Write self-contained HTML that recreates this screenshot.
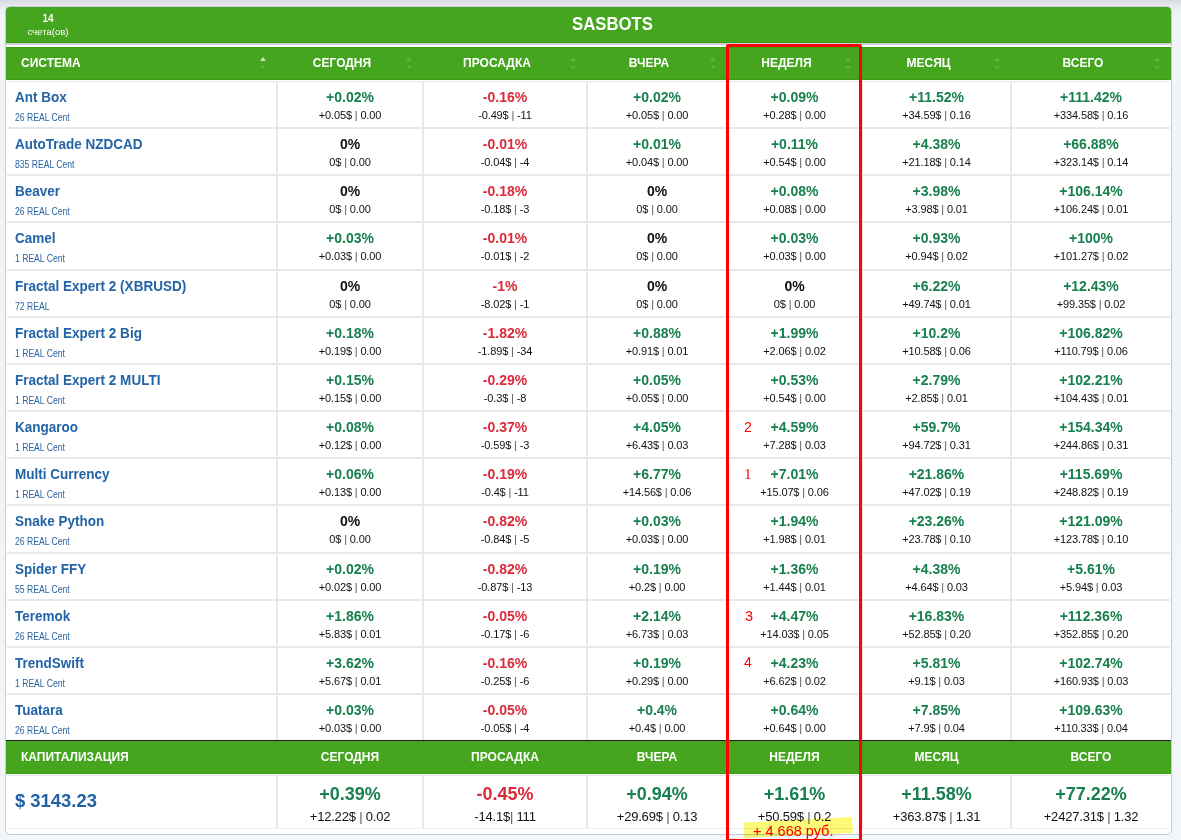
<!DOCTYPE html>
<html><head><meta charset="utf-8"><title>SASBOTS</title>
<style>
*{box-sizing:border-box;margin:0;padding:0}
html,body{width:1181px;height:840px;overflow:hidden}
body{position:relative;font-family:"Liberation Sans",sans-serif;background:linear-gradient(#d7dadf 0px,#e3e6ea 5px,#eceff3 10px,#f0f3f8 18px,#f2f5fa 100%)}
.ab{position:absolute}
.card{position:absolute;left:5px;top:6px;width:1167px;height:829px;border:1px solid #c8cacd;border-radius:5px;background:#fff}
.top{position:absolute;left:6px;top:7px;width:1165px;height:36px;background:#45a51e;border-radius:4px 4px 0 0;border-bottom:1px solid #38a010}
.hd{position:absolute;left:6px;width:1165px;background:#45a51e}
.hl{position:absolute;background:#e7e8ea}
.t{position:absolute;white-space:nowrap;line-height:1}
.name{font-weight:bold;font-size:14px;color:#2364a6;left:15px;transform:scaleX(.965);transform-origin:0 0}
.sub{font-size:10px;color:#2b62a0;left:15px;transform:scaleX(.86);transform-origin:0 0}
.pc{font-weight:bold;font-size:14px;text-align:center}
.vl{font-size:11px;color:#111;text-align:center;letter-spacing:-.15px}
.sp{color:#555}.g{color:#18804f}.r{color:#dc2a3a}.k{color:#111}
.hx{font-weight:bold;font-size:12px;color:#fff;text-align:center}
.arr{position:absolute;width:0;height:0;border-left:3px solid transparent;border-right:3px solid transparent}
.up{border-bottom:4px solid rgba(255,255,255,.16)}
.dn{border-top:3px solid rgba(255,255,255,.16)}
.up.on{border-bottom-color:rgba(255,255,255,.7)}
.mk{position:absolute;font-size:14px;color:#ff0000;line-height:1}
</style></head><body>
<div class="card"></div>
<div class="top"></div>

<div class="ab" style="left:6px;top:43px;width:1165px;height:2px;background:#cfcdd3"></div>
<div class="hd" style="top:47px;height:33px;border-top:1px solid #38a010;border-bottom:1px solid #38a010"></div>
<div class="hl" style="left:7px;top:81px;width:1163px;height:1px"></div>
<div class="t" style="left:0;width:96px;top:14px;text-align:center;font-size:10px;font-weight:bold;color:#fff">14</div>
<div class="t" style="left:0;width:96px;top:27px;text-align:center;font-size:9.6px;color:#fff">счета(ов)</div>
<div class="t" style="left:572px;top:15px;font-size:18px;font-weight:bold;color:#fff;transform:scaleX(.93);transform-origin:0 0">SASBOTS</div>
<div class="t hx" style="left:21px;top:57px;text-align:left">СИСТЕМА</div>
<div class="arr up on" style="left:260px;top:57px"></div>
<div class="arr dn" style="left:260px;top:66px"></div>
<div class="t hx" style="left:278px;width:128px;top:57px">СЕГОДНЯ</div>
<div class="arr up" style="left:406px;top:57px"></div>
<div class="arr dn" style="left:406px;top:66px"></div>
<div class="t hx" style="left:424px;width:146px;top:57px">ПРОСАДКА</div>
<div class="arr up" style="left:570px;top:57px"></div>
<div class="arr dn" style="left:570px;top:66px"></div>
<div class="t hx" style="left:588px;width:122px;top:57px">ВЧЕРА</div>
<div class="arr up" style="left:710px;top:57px"></div>
<div class="arr dn" style="left:710px;top:66px"></div>
<div class="t hx" style="left:728px;width:117px;top:57px">НЕДЕЛЯ</div>
<div class="arr up" style="left:845px;top:57px"></div>
<div class="arr dn" style="left:845px;top:66px"></div>
<div class="t hx" style="left:863px;width:131px;top:57px">МЕСЯЦ</div>
<div class="arr up" style="left:994px;top:57px"></div>
<div class="arr dn" style="left:994px;top:66px"></div>
<div class="t hx" style="left:1012px;width:142px;top:57px">ВСЕГО</div>
<div class="arr up" style="left:1154px;top:57px"></div>
<div class="arr dn" style="left:1154px;top:66px"></div>
<div class="hl" style="left:7px;top:127px;width:1163px;height:2px"></div>
<div class="hl" style="left:7px;top:174px;width:1163px;height:2px"></div>
<div class="hl" style="left:7px;top:221px;width:1163px;height:2px"></div>
<div class="hl" style="left:7px;top:269px;width:1163px;height:2px"></div>
<div class="hl" style="left:7px;top:316px;width:1163px;height:2px"></div>
<div class="hl" style="left:7px;top:363px;width:1163px;height:2px"></div>
<div class="hl" style="left:7px;top:410px;width:1163px;height:2px"></div>
<div class="hl" style="left:7px;top:457px;width:1163px;height:2px"></div>
<div class="hl" style="left:7px;top:504px;width:1163px;height:2px"></div>
<div class="hl" style="left:7px;top:552px;width:1163px;height:2px"></div>
<div class="hl" style="left:7px;top:599px;width:1163px;height:2px"></div>
<div class="hl" style="left:7px;top:646px;width:1163px;height:2px"></div>
<div class="hl" style="left:7px;top:693px;width:1163px;height:2px"></div>
<div class="hl" style="left:276px;top:82px;width:2px;height:658px"></div>
<div class="hl" style="left:422px;top:82px;width:2px;height:658px"></div>
<div class="hl" style="left:586px;top:82px;width:2px;height:658px"></div>
<div class="hl" style="left:726px;top:82px;width:2px;height:658px"></div>
<div class="hl" style="left:861px;top:82px;width:2px;height:658px"></div>
<div class="hl" style="left:1010px;top:82px;width:2px;height:658px"></div>
<div class="t name" style="top:90px">Ant Box</div>
<div class="t sub" style="top:113px">26 REAL Cent</div>
<div class="t pc g" style="left:278px;width:144px;top:90px">+0.02%</div>
<div class="t vl" style="left:278px;width:144px;top:110px">+0.05$ <span class="sp">|</span> 0.00</div>
<div class="t pc r" style="left:424px;width:162px;top:90px">-0.16%</div>
<div class="t vl" style="left:424px;width:162px;top:110px">-0.49$ <span class="sp">|</span> -11</div>
<div class="t pc g" style="left:588px;width:138px;top:90px">+0.02%</div>
<div class="t vl" style="left:588px;width:138px;top:110px">+0.05$ <span class="sp">|</span> 0.00</div>
<div class="t pc g" style="left:728px;width:133px;top:90px">+0.09%</div>
<div class="t vl" style="left:728px;width:133px;top:110px">+0.28$ <span class="sp">|</span> 0.00</div>
<div class="t pc g" style="left:863px;width:147px;top:90px">+11.52%</div>
<div class="t vl" style="left:863px;width:147px;top:110px">+34.59$ <span class="sp">|</span> 0.16</div>
<div class="t pc g" style="left:1012px;width:158px;top:90px">+111.42%</div>
<div class="t vl" style="left:1012px;width:158px;top:110px">+334.58$ <span class="sp">|</span> 0.16</div>
<div class="t name" style="top:137px">AutoTrade NZDCAD</div>
<div class="t sub" style="top:160px">835 REAL Cent</div>
<div class="t pc k" style="left:278px;width:144px;top:137px">0%</div>
<div class="t vl" style="left:278px;width:144px;top:157px">0$ <span class="sp">|</span> 0.00</div>
<div class="t pc r" style="left:424px;width:162px;top:137px">-0.01%</div>
<div class="t vl" style="left:424px;width:162px;top:157px">-0.04$ <span class="sp">|</span> -4</div>
<div class="t pc g" style="left:588px;width:138px;top:137px">+0.01%</div>
<div class="t vl" style="left:588px;width:138px;top:157px">+0.04$ <span class="sp">|</span> 0.00</div>
<div class="t pc g" style="left:728px;width:133px;top:137px">+0.11%</div>
<div class="t vl" style="left:728px;width:133px;top:157px">+0.54$ <span class="sp">|</span> 0.00</div>
<div class="t pc g" style="left:863px;width:147px;top:137px">+4.38%</div>
<div class="t vl" style="left:863px;width:147px;top:157px">+21.18$ <span class="sp">|</span> 0.14</div>
<div class="t pc g" style="left:1012px;width:158px;top:137px">+66.88%</div>
<div class="t vl" style="left:1012px;width:158px;top:157px">+323.14$ <span class="sp">|</span> 0.14</div>
<div class="t name" style="top:184px">Beaver</div>
<div class="t sub" style="top:207px">26 REAL Cent</div>
<div class="t pc k" style="left:278px;width:144px;top:184px">0%</div>
<div class="t vl" style="left:278px;width:144px;top:204px">0$ <span class="sp">|</span> 0.00</div>
<div class="t pc r" style="left:424px;width:162px;top:184px">-0.18%</div>
<div class="t vl" style="left:424px;width:162px;top:204px">-0.18$ <span class="sp">|</span> -3</div>
<div class="t pc k" style="left:588px;width:138px;top:184px">0%</div>
<div class="t vl" style="left:588px;width:138px;top:204px">0$ <span class="sp">|</span> 0.00</div>
<div class="t pc g" style="left:728px;width:133px;top:184px">+0.08%</div>
<div class="t vl" style="left:728px;width:133px;top:204px">+0.08$ <span class="sp">|</span> 0.00</div>
<div class="t pc g" style="left:863px;width:147px;top:184px">+3.98%</div>
<div class="t vl" style="left:863px;width:147px;top:204px">+3.98$ <span class="sp">|</span> 0.01</div>
<div class="t pc g" style="left:1012px;width:158px;top:184px">+106.14%</div>
<div class="t vl" style="left:1012px;width:158px;top:204px">+106.24$ <span class="sp">|</span> 0.01</div>
<div class="t name" style="top:231px">Camel</div>
<div class="t sub" style="top:254px">1 REAL Cent</div>
<div class="t pc g" style="left:278px;width:144px;top:231px">+0.03%</div>
<div class="t vl" style="left:278px;width:144px;top:251px">+0.03$ <span class="sp">|</span> 0.00</div>
<div class="t pc r" style="left:424px;width:162px;top:231px">-0.01%</div>
<div class="t vl" style="left:424px;width:162px;top:251px">-0.01$ <span class="sp">|</span> -2</div>
<div class="t pc k" style="left:588px;width:138px;top:231px">0%</div>
<div class="t vl" style="left:588px;width:138px;top:251px">0$ <span class="sp">|</span> 0.00</div>
<div class="t pc g" style="left:728px;width:133px;top:231px">+0.03%</div>
<div class="t vl" style="left:728px;width:133px;top:251px">+0.03$ <span class="sp">|</span> 0.00</div>
<div class="t pc g" style="left:863px;width:147px;top:231px">+0.93%</div>
<div class="t vl" style="left:863px;width:147px;top:251px">+0.94$ <span class="sp">|</span> 0.02</div>
<div class="t pc g" style="left:1012px;width:158px;top:231px">+100%</div>
<div class="t vl" style="left:1012px;width:158px;top:251px">+101.27$ <span class="sp">|</span> 0.02</div>
<div class="t name" style="top:279px">Fractal Expert 2 (XBRUSD)</div>
<div class="t sub" style="top:302px">72 REAL</div>
<div class="t pc k" style="left:278px;width:144px;top:279px">0%</div>
<div class="t vl" style="left:278px;width:144px;top:299px">0$ <span class="sp">|</span> 0.00</div>
<div class="t pc r" style="left:424px;width:162px;top:279px">-1%</div>
<div class="t vl" style="left:424px;width:162px;top:299px">-8.02$ <span class="sp">|</span> -1</div>
<div class="t pc k" style="left:588px;width:138px;top:279px">0%</div>
<div class="t vl" style="left:588px;width:138px;top:299px">0$ <span class="sp">|</span> 0.00</div>
<div class="t pc k" style="left:728px;width:133px;top:279px">0%</div>
<div class="t vl" style="left:728px;width:133px;top:299px">0$ <span class="sp">|</span> 0.00</div>
<div class="t pc g" style="left:863px;width:147px;top:279px">+6.22%</div>
<div class="t vl" style="left:863px;width:147px;top:299px">+49.74$ <span class="sp">|</span> 0.01</div>
<div class="t pc g" style="left:1012px;width:158px;top:279px">+12.43%</div>
<div class="t vl" style="left:1012px;width:158px;top:299px">+99.35$ <span class="sp">|</span> 0.02</div>
<div class="t name" style="top:326px">Fractal Expert 2 Big</div>
<div class="t sub" style="top:349px">1 REAL Cent</div>
<div class="t pc g" style="left:278px;width:144px;top:326px">+0.18%</div>
<div class="t vl" style="left:278px;width:144px;top:346px">+0.19$ <span class="sp">|</span> 0.00</div>
<div class="t pc r" style="left:424px;width:162px;top:326px">-1.82%</div>
<div class="t vl" style="left:424px;width:162px;top:346px">-1.89$ <span class="sp">|</span> -34</div>
<div class="t pc g" style="left:588px;width:138px;top:326px">+0.88%</div>
<div class="t vl" style="left:588px;width:138px;top:346px">+0.91$ <span class="sp">|</span> 0.01</div>
<div class="t pc g" style="left:728px;width:133px;top:326px">+1.99%</div>
<div class="t vl" style="left:728px;width:133px;top:346px">+2.06$ <span class="sp">|</span> 0.02</div>
<div class="t pc g" style="left:863px;width:147px;top:326px">+10.2%</div>
<div class="t vl" style="left:863px;width:147px;top:346px">+10.58$ <span class="sp">|</span> 0.06</div>
<div class="t pc g" style="left:1012px;width:158px;top:326px">+106.82%</div>
<div class="t vl" style="left:1012px;width:158px;top:346px">+110.79$ <span class="sp">|</span> 0.06</div>
<div class="t name" style="top:373px">Fractal Expert 2 MULTI</div>
<div class="t sub" style="top:396px">1 REAL Cent</div>
<div class="t pc g" style="left:278px;width:144px;top:373px">+0.15%</div>
<div class="t vl" style="left:278px;width:144px;top:393px">+0.15$ <span class="sp">|</span> 0.00</div>
<div class="t pc r" style="left:424px;width:162px;top:373px">-0.29%</div>
<div class="t vl" style="left:424px;width:162px;top:393px">-0.3$ <span class="sp">|</span> -8</div>
<div class="t pc g" style="left:588px;width:138px;top:373px">+0.05%</div>
<div class="t vl" style="left:588px;width:138px;top:393px">+0.05$ <span class="sp">|</span> 0.00</div>
<div class="t pc g" style="left:728px;width:133px;top:373px">+0.53%</div>
<div class="t vl" style="left:728px;width:133px;top:393px">+0.54$ <span class="sp">|</span> 0.00</div>
<div class="t pc g" style="left:863px;width:147px;top:373px">+2.79%</div>
<div class="t vl" style="left:863px;width:147px;top:393px">+2.85$ <span class="sp">|</span> 0.01</div>
<div class="t pc g" style="left:1012px;width:158px;top:373px">+102.21%</div>
<div class="t vl" style="left:1012px;width:158px;top:393px">+104.43$ <span class="sp">|</span> 0.01</div>
<div class="t name" style="top:420px">Kangaroo</div>
<div class="t sub" style="top:443px">1 REAL Cent</div>
<div class="t pc g" style="left:278px;width:144px;top:420px">+0.08%</div>
<div class="t vl" style="left:278px;width:144px;top:440px">+0.12$ <span class="sp">|</span> 0.00</div>
<div class="t pc r" style="left:424px;width:162px;top:420px">-0.37%</div>
<div class="t vl" style="left:424px;width:162px;top:440px">-0.59$ <span class="sp">|</span> -3</div>
<div class="t pc g" style="left:588px;width:138px;top:420px">+4.05%</div>
<div class="t vl" style="left:588px;width:138px;top:440px">+6.43$ <span class="sp">|</span> 0.03</div>
<div class="t pc g" style="left:728px;width:133px;top:420px">+4.59%</div>
<div class="t vl" style="left:728px;width:133px;top:440px">+7.28$ <span class="sp">|</span> 0.03</div>
<div class="t pc g" style="left:863px;width:147px;top:420px">+59.7%</div>
<div class="t vl" style="left:863px;width:147px;top:440px">+94.72$ <span class="sp">|</span> 0.31</div>
<div class="t pc g" style="left:1012px;width:158px;top:420px">+154.34%</div>
<div class="t vl" style="left:1012px;width:158px;top:440px">+244.86$ <span class="sp">|</span> 0.31</div>
<div class="mk" style="left:744px;top:420px;font-family:'Liberation Sans',sans-serif;font-size:14px">2</div>
<div class="t name" style="top:467px">Multi Currency</div>
<div class="t sub" style="top:490px">1 REAL Cent</div>
<div class="t pc g" style="left:278px;width:144px;top:467px">+0.06%</div>
<div class="t vl" style="left:278px;width:144px;top:487px">+0.13$ <span class="sp">|</span> 0.00</div>
<div class="t pc r" style="left:424px;width:162px;top:467px">-0.19%</div>
<div class="t vl" style="left:424px;width:162px;top:487px">-0.4$ <span class="sp">|</span> -11</div>
<div class="t pc g" style="left:588px;width:138px;top:467px">+6.77%</div>
<div class="t vl" style="left:588px;width:138px;top:487px">+14.56$ <span class="sp">|</span> 0.06</div>
<div class="t pc g" style="left:728px;width:133px;top:467px">+7.01%</div>
<div class="t vl" style="left:728px;width:133px;top:487px">+15.07$ <span class="sp">|</span> 0.06</div>
<div class="t pc g" style="left:863px;width:147px;top:467px">+21.86%</div>
<div class="t vl" style="left:863px;width:147px;top:487px">+47.02$ <span class="sp">|</span> 0.19</div>
<div class="t pc g" style="left:1012px;width:158px;top:467px">+115.69%</div>
<div class="t vl" style="left:1012px;width:158px;top:487px">+248.82$ <span class="sp">|</span> 0.19</div>
<div class="mk" style="left:744px;top:467px;font-family:'Liberation Serif',serif;font-size:15px">1</div>
<div class="t name" style="top:514px">Snake Python</div>
<div class="t sub" style="top:537px">26 REAL Cent</div>
<div class="t pc k" style="left:278px;width:144px;top:514px">0%</div>
<div class="t vl" style="left:278px;width:144px;top:534px">0$ <span class="sp">|</span> 0.00</div>
<div class="t pc r" style="left:424px;width:162px;top:514px">-0.82%</div>
<div class="t vl" style="left:424px;width:162px;top:534px">-0.84$ <span class="sp">|</span> -5</div>
<div class="t pc g" style="left:588px;width:138px;top:514px">+0.03%</div>
<div class="t vl" style="left:588px;width:138px;top:534px">+0.03$ <span class="sp">|</span> 0.00</div>
<div class="t pc g" style="left:728px;width:133px;top:514px">+1.94%</div>
<div class="t vl" style="left:728px;width:133px;top:534px">+1.98$ <span class="sp">|</span> 0.01</div>
<div class="t pc g" style="left:863px;width:147px;top:514px">+23.26%</div>
<div class="t vl" style="left:863px;width:147px;top:534px">+23.78$ <span class="sp">|</span> 0.10</div>
<div class="t pc g" style="left:1012px;width:158px;top:514px">+121.09%</div>
<div class="t vl" style="left:1012px;width:158px;top:534px">+123.78$ <span class="sp">|</span> 0.10</div>
<div class="t name" style="top:562px">Spider FFY</div>
<div class="t sub" style="top:585px">55 REAL Cent</div>
<div class="t pc g" style="left:278px;width:144px;top:562px">+0.02%</div>
<div class="t vl" style="left:278px;width:144px;top:582px">+0.02$ <span class="sp">|</span> 0.00</div>
<div class="t pc r" style="left:424px;width:162px;top:562px">-0.82%</div>
<div class="t vl" style="left:424px;width:162px;top:582px">-0.87$ <span class="sp">|</span> -13</div>
<div class="t pc g" style="left:588px;width:138px;top:562px">+0.19%</div>
<div class="t vl" style="left:588px;width:138px;top:582px">+0.2$ <span class="sp">|</span> 0.00</div>
<div class="t pc g" style="left:728px;width:133px;top:562px">+1.36%</div>
<div class="t vl" style="left:728px;width:133px;top:582px">+1.44$ <span class="sp">|</span> 0.01</div>
<div class="t pc g" style="left:863px;width:147px;top:562px">+4.38%</div>
<div class="t vl" style="left:863px;width:147px;top:582px">+4.64$ <span class="sp">|</span> 0.03</div>
<div class="t pc g" style="left:1012px;width:158px;top:562px">+5.61%</div>
<div class="t vl" style="left:1012px;width:158px;top:582px">+5.94$ <span class="sp">|</span> 0.03</div>
<div class="t name" style="top:609px">Teremok</div>
<div class="t sub" style="top:632px">26 REAL Cent</div>
<div class="t pc g" style="left:278px;width:144px;top:609px">+1.86%</div>
<div class="t vl" style="left:278px;width:144px;top:629px">+5.83$ <span class="sp">|</span> 0.01</div>
<div class="t pc r" style="left:424px;width:162px;top:609px">-0.05%</div>
<div class="t vl" style="left:424px;width:162px;top:629px">-0.17$ <span class="sp">|</span> -6</div>
<div class="t pc g" style="left:588px;width:138px;top:609px">+2.14%</div>
<div class="t vl" style="left:588px;width:138px;top:629px">+6.73$ <span class="sp">|</span> 0.03</div>
<div class="t pc g" style="left:728px;width:133px;top:609px">+4.47%</div>
<div class="t vl" style="left:728px;width:133px;top:629px">+14.03$ <span class="sp">|</span> 0.05</div>
<div class="t pc g" style="left:863px;width:147px;top:609px">+16.83%</div>
<div class="t vl" style="left:863px;width:147px;top:629px">+52.85$ <span class="sp">|</span> 0.20</div>
<div class="t pc g" style="left:1012px;width:158px;top:609px">+112.36%</div>
<div class="t vl" style="left:1012px;width:158px;top:629px">+352.85$ <span class="sp">|</span> 0.20</div>
<div class="mk" style="left:745px;top:609px;font-family:'Liberation Sans',sans-serif;font-size:14.5px">3</div>
<div class="t name" style="top:656px">TrendSwift</div>
<div class="t sub" style="top:679px">1 REAL Cent</div>
<div class="t pc g" style="left:278px;width:144px;top:656px">+3.62%</div>
<div class="t vl" style="left:278px;width:144px;top:676px">+5.67$ <span class="sp">|</span> 0.01</div>
<div class="t pc r" style="left:424px;width:162px;top:656px">-0.16%</div>
<div class="t vl" style="left:424px;width:162px;top:676px">-0.25$ <span class="sp">|</span> -6</div>
<div class="t pc g" style="left:588px;width:138px;top:656px">+0.19%</div>
<div class="t vl" style="left:588px;width:138px;top:676px">+0.29$ <span class="sp">|</span> 0.00</div>
<div class="t pc g" style="left:728px;width:133px;top:656px">+4.23%</div>
<div class="t vl" style="left:728px;width:133px;top:676px">+6.62$ <span class="sp">|</span> 0.02</div>
<div class="t pc g" style="left:863px;width:147px;top:656px">+5.81%</div>
<div class="t vl" style="left:863px;width:147px;top:676px">+9.1$ <span class="sp">|</span> 0.03</div>
<div class="t pc g" style="left:1012px;width:158px;top:656px">+102.74%</div>
<div class="t vl" style="left:1012px;width:158px;top:676px">+160.93$ <span class="sp">|</span> 0.03</div>
<div class="mk" style="left:744px;top:655px;font-family:'Liberation Sans',sans-serif;font-size:14px">4</div>
<div class="t name" style="top:703px">Tuatara</div>
<div class="t sub" style="top:726px">26 REAL Cent</div>
<div class="t pc g" style="left:278px;width:144px;top:703px">+0.03%</div>
<div class="t vl" style="left:278px;width:144px;top:723px">+0.03$ <span class="sp">|</span> 0.00</div>
<div class="t pc r" style="left:424px;width:162px;top:703px">-0.05%</div>
<div class="t vl" style="left:424px;width:162px;top:723px">-0.05$ <span class="sp">|</span> -4</div>
<div class="t pc g" style="left:588px;width:138px;top:703px">+0.4%</div>
<div class="t vl" style="left:588px;width:138px;top:723px">+0.4$ <span class="sp">|</span> 0.00</div>
<div class="t pc g" style="left:728px;width:133px;top:703px">+0.64%</div>
<div class="t vl" style="left:728px;width:133px;top:723px">+0.64$ <span class="sp">|</span> 0.00</div>
<div class="t pc g" style="left:863px;width:147px;top:703px">+7.85%</div>
<div class="t vl" style="left:863px;width:147px;top:723px">+7.9$ <span class="sp">|</span> 0.04</div>
<div class="t pc g" style="left:1012px;width:158px;top:703px">+109.63%</div>
<div class="t vl" style="left:1012px;width:158px;top:723px">+110.33$ <span class="sp">|</span> 0.04</div>
<div class="ab" style="left:6px;top:740px;width:1165px;height:1px;background:#1c2020"></div>
<div class="hd" style="top:741px;height:33px;border-bottom:1px solid #38a010"></div>
<div class="hl" style="left:7px;top:775px;width:1163px;height:1px"></div>
<div class="t hx" style="left:21px;top:751px;text-align:left">КАПИТАЛИЗАЦИЯ</div>
<div class="t hx" style="left:278px;width:144px;top:751px">СЕГОДНЯ</div>
<div class="t hx" style="left:424px;width:162px;top:751px">ПРОСАДКА</div>
<div class="t hx" style="left:588px;width:138px;top:751px">ВЧЕРА</div>
<div class="t hx" style="left:728px;width:133px;top:751px">НЕДЕЛЯ</div>
<div class="t hx" style="left:863px;width:147px;top:751px">МЕСЯЦ</div>
<div class="t hx" style="left:1012px;width:158px;top:751px">ВСЕГО</div>
<div class="hl" style="left:276px;top:776px;width:2px;height:52px"></div>
<div class="hl" style="left:422px;top:776px;width:2px;height:52px"></div>
<div class="hl" style="left:586px;top:776px;width:2px;height:52px"></div>
<div class="hl" style="left:726px;top:776px;width:2px;height:52px"></div>
<div class="hl" style="left:861px;top:776px;width:2px;height:52px"></div>
<div class="hl" style="left:1010px;top:776px;width:2px;height:52px"></div>
<div class="ab" style="left:7px;top:828px;width:1163px;height:1px;background:#efefef"></div>
<div class="t" style="left:15px;top:791px;font-size:19px;font-weight:bold;color:#2062a6;transform:scaleX(.97);transform-origin:0 0">$ 3143.23</div>
<div class="t g" style="left:278px;width:144px;top:785px;text-align:center;font-size:18px;font-weight:bold">+0.39%</div>
<div class="t" style="left:278px;width:144px;top:810px;text-align:center;font-size:13px;color:#111;letter-spacing:-.2px">+12.22$ <span class="sp">|</span> 0.02</div>
<div class="t r" style="left:424px;width:162px;top:785px;text-align:center;font-size:18px;font-weight:bold">-0.45%</div>
<div class="t" style="left:424px;width:162px;top:810px;text-align:center;font-size:13px;color:#111;letter-spacing:-.2px">-14.1$<span class="sp">|</span> 111</div>
<div class="t g" style="left:588px;width:138px;top:785px;text-align:center;font-size:18px;font-weight:bold">+0.94%</div>
<div class="t" style="left:588px;width:138px;top:810px;text-align:center;font-size:13px;color:#111;letter-spacing:-.2px">+29.69$ <span class="sp">|</span> 0.13</div>
<div class="t g" style="left:728px;width:133px;top:785px;text-align:center;font-size:18px;font-weight:bold">+1.61%</div>
<div class="t" style="left:728px;width:133px;top:810px;text-align:center;font-size:13px;color:#111;letter-spacing:-.2px">+50.59$ <span class="sp">|</span> 0.2</div>
<div class="t g" style="left:863px;width:147px;top:785px;text-align:center;font-size:18px;font-weight:bold">+11.58%</div>
<div class="t" style="left:863px;width:147px;top:810px;text-align:center;font-size:13px;color:#111;letter-spacing:-.2px">+363.87$ <span class="sp">|</span> 1.31</div>
<div class="t g" style="left:1012px;width:158px;top:785px;text-align:center;font-size:18px;font-weight:bold">+77.22%</div>
<div class="t" style="left:1012px;width:158px;top:810px;text-align:center;font-size:13px;color:#111;letter-spacing:-.2px">+2427.31$ <span class="sp">|</span> 1.32</div>
<svg class="ab" style="left:0;top:0;mix-blend-mode:multiply" width="1181" height="840"><polygon points="744,822.5 790,820 852,817 853,833 800,835 744,838" fill="#fcfa78"/></svg>
<div class="ab" style="left:753px;top:824px;font-size:14.5px;color:#ff0000;white-space:nowrap;line-height:1">+ 4 668 руб.</div>
<div class="ab" style="left:726px;top:44px;width:136px;height:798px;border:3px solid #ff0000;border-radius:2px"></div>
</body></html>
